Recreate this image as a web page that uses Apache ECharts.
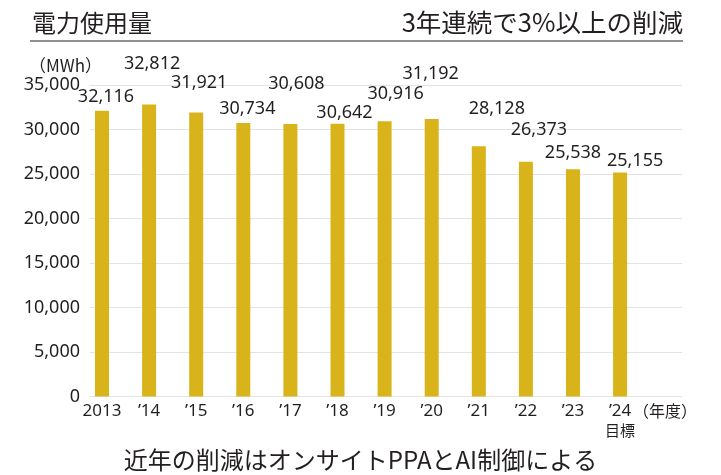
<!DOCTYPE html>
<html><head><meta charset="utf-8">
<script src="https://cdn.jsdelivr.net/npm/echarts@6/dist/echarts.min.js"></script>
<style>html,body{margin:0;padding:0;background:#fff}#c{width:721px;height:475px}</style>
</head><body><div id="c"></div>
<script>
const categories = ['2013', '’14', '’15', '’16', '’17', '’18', '’19', '’20', '’21', '’22', '’23', '’24'];
const usage = [32116, 32812, 31921, 30734, 30608, 30642, 30916, 31192, 28128, 26373, 25538, 25155];
const yTicks = { min: 0, max: 35000, interval: 5000 };
const titleText = '電力使用量';
const headline = '3年連続で3%以上の削減';
const unitText = '（MWh）';
const yearUnit = '（年度）';
const targetNote = '目標';
const footnote = '近年の削減はオンサイトPPAとAI制御による';

// label placement (layout only)
const labelOffsets = [[4, -5], [3, -32], [3, -21], [4, -5], [6, -31], [7, -2], [11, -18], [-1, -36], [18, -28], [13, -23], [0, -7], [15, -3]];

const TXT = '#231f20';
const NUM_FONT = '"Noto Sans", "Noto Sans CJK JP", sans-serif';
const JP_FONT = '"Noto Sans CJK JP", "Noto Sans", sans-serif';

const chart = echarts.init(document.getElementById('c'), null, { renderer: 'canvas' });
chart.setOption({
  animation: false,
  backgroundColor: '#fff',
  title: [
    { text: titleText, left: 27, top: 6, textStyle: { fontFamily: JP_FONT, fontSize: 24, fontWeight: 'normal', color: TXT } },
    { text: headline, right: 33, top: 5, textStyle: { fontFamily: JP_FONT, fontSize: 25.5, fontWeight: 'normal', color: TXT } },
    { text: unitText, left: 24, top: 52, textStyle: { fontFamily: JP_FONT, fontSize: 17, fontWeight: 'normal', color: TXT } },
    { text: yearUnit, left: 628, top: 398, textStyle: { fontFamily: JP_FONT, fontSize: 16, fontWeight: 'normal', color: TXT } },
    { text: footnote, left: 'center', top: 443, textStyle: { fontFamily: JP_FONT, fontSize: 24, fontWeight: 'normal', color: TXT } }
  ],
  graphic: [
    { type: 'line', shape: { x1: 30, y1: 41, x2: 683, y2: 41 }, style: { stroke: '#6b6b6b', lineWidth: 1.5 } }
  ],
  grid: [
    { left: 90, right: 39, top: 85, bottom: 78.5 },
    { left: 78.45, right: 77.35, top: 85, bottom: 78.5 }
  ],
  xAxis: [
    { gridIndex: 0, type: 'category', data: categories, show: false },
    {
      gridIndex: 1, type: 'category', data: categories,
      axisLine: { show: false }, axisTick: { show: false },
      axisLabel: {
        interval: 0, margin: 6, fontFamily: NUM_FONT, fontSize: 17, color: TXT, lineHeight: 18,
        formatter: (v, i) => i === categories.length - 1 ? v + '\n{t|' + targetNote + '}' : v,
        rich: { t: { fontFamily: JP_FONT, fontSize: 15, color: TXT, lineHeight: 20 } }
      }
    }
  ],
  yAxis: [
    {
      gridIndex: 0, type: 'value', min: yTicks.min, max: yTicks.max, interval: yTicks.interval,
      axisLine: { show: false }, axisTick: { show: false },
      splitLine: { lineStyle: { color: '#e3e3e3', width: 1.2 } },
      axisLabel: { margin: 10, fontFamily: NUM_FONT, fontSize: 18, color: TXT, formatter: v => v.toLocaleString('en-US') }
    },
    { gridIndex: 1, type: 'value', min: yTicks.min, max: yTicks.max, interval: yTicks.interval, show: false, splitLine: { show: false } }
  ],
  series: [{
    type: 'bar', xAxisIndex: 1, yAxisIndex: 1, barWidth: 14,
    itemStyle: { color: '#d9b31a' },
    data: usage.map((v, i) => ({
      value: v,
      label: { show: true, position: 'top', distance: 0, offset: labelOffsets[i],
        fontFamily: NUM_FONT, fontSize: 18, color: TXT, lineHeight: 18,
        formatter: p => p.value.toLocaleString('en-US') }
    }))
  }]
});
</script></body></html>
